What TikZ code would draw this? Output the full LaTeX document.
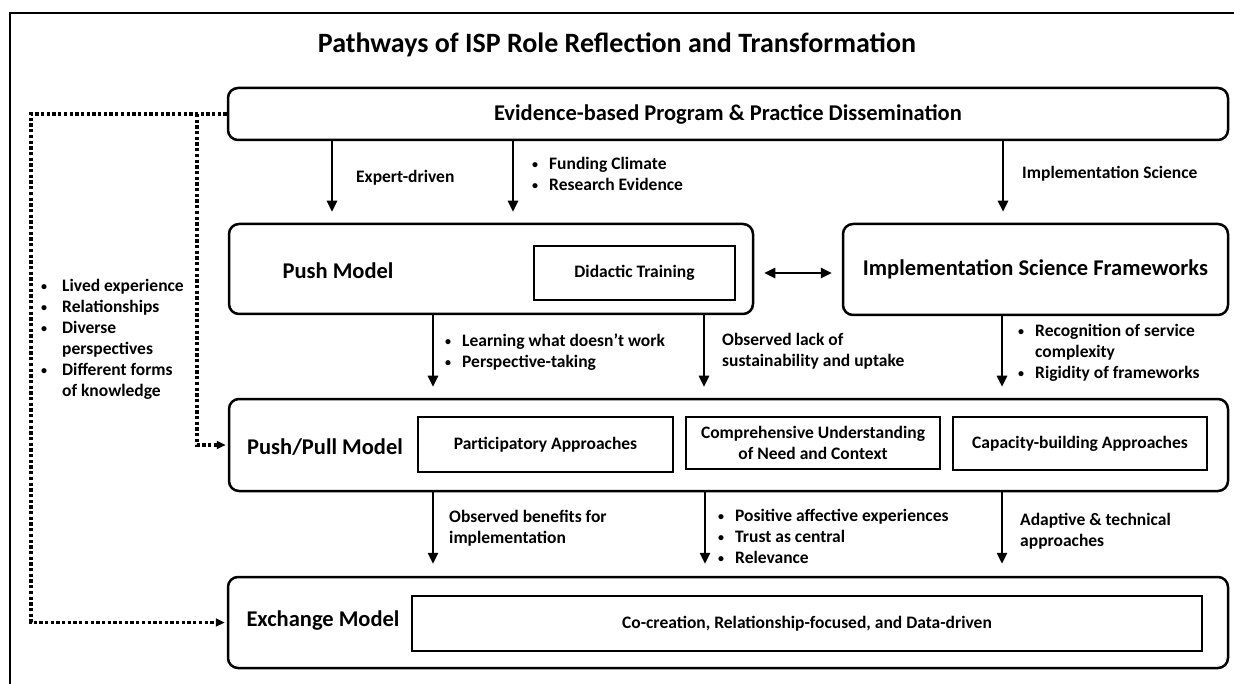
\documentclass[tikz,border=0pt]{standalone}
\usepackage{fontspec}
\setmainfont{Carlito}
\usepackage{tikz}
\usetikzlibrary{arrows.meta}

\newcommand{\bulletlist}[2][11pt]{\begin{tabular}{@{}l@{\hspace{#1}}l@{}}#2\end{tabular}}
\newcommand{\bu}{\raisebox{1pt}{\fontsize{12}{12}\selectfont\textbullet}}

\begin{document}
\begin{tikzpicture}[x=1pt, y=-1pt,
    model/.style={draw, rounded corners=10pt, line width=2.5pt, inner sep=0pt},
    part/.style={draw, line width=1.5pt, inner sep=0pt, align=center, font=\fontsize{17.5}{21}\selectfont\bfseries},
    head/.style={font=\fontsize{22.5}{27}\selectfont\bfseries},
    lbl/.style={anchor=west, inner sep=0pt, align=left, font=\fontsize{17.5}{21}\selectfont\bfseries},
    flow/.style={line width=2.5pt, -{Triangle[width=10pt,length=11pt]}},
    dots/.style={line width=3.3pt, dash pattern=on 3.3pt off 2.4pt}]
    \useasboundingbox (0,0) rectangle (1234,684);
    \draw[line width=2pt] (10,684) -- (10,13) -- (1234,13);

    \node (title) at (617,45) [font=\fontsize{28}{33}\selectfont\bfseries] {Pathways of ISP Role Reflection and Transformation};

    % models
    \node (ebp) at (728,114) [model, head, minimum width=1000pt, minimum height=52pt] {Evidence-based Program \& Practice Dissemination};
    \node (push) at (491,269) [model, minimum width=524pt, minimum height=90pt] {};
    \node (pushname) at (338,271) [head] {Push Model};
    \node (didactic) at (634.5,273) [part, minimum width=201pt, minimum height=54pt] {Didactic Training};
    \node (isf) at (1035.5,269.5) [model, head, minimum width=385pt, minimum height=91pt] {Implementation Science Frameworks};
    \node (pushpull) at (728.5,445) [model, minimum width=999pt, minimum height=92pt] {};
    \node (pushpullname) at (325,447) [head] {Push/Pull Model};
    \node (particip) at (545.5,444.5) [part, minimum width=255pt, minimum height=55pt] {Participatory Approaches};
    \node (compreh) at (813,443) [part, minimum width=254pt, minimum height=52pt] {Comprehensive Understanding\\of Need and Context};
    \node (capacity) at (1080,443.5) [part, minimum width=254pt, minimum height=53pt] {Capacity-building Approaches};
    \node (exchange) at (728,622.5) [model, minimum width=1000pt, minimum height=91pt] {};
    \node (exchangename) at (323,621) [head] {Exchange Model};
    \node (cocreate) at (807,623.5) [part, minimum width=790pt, minimum height=55pt] {Co-creation, Relationship-focused, and Data-driven};

    % arrows
    \draw[flow, shorten >=11pt] (ebp.south -| 332,0) -- (push.north -| 332,0);
    \draw[flow, shorten >=11pt] (ebp.south -| 513,0) -- (push.north -| 513,0);
    \draw[flow, shorten >=11pt] (ebp.south -| 1003,0) -- (isf.north -| 1003,0);
    \draw[flow, {Triangle[width=10pt,length=11pt]}-{Triangle[width=10pt,length=11pt]}, shorten <=10pt, shorten >=10pt] (push.east |- didactic.east) -- (isf.west |- didactic.east);
    \draw[flow, shorten >=11pt] (push.south -| 433,0) -- (pushpull.north -| 433,0);
    \draw[flow, shorten >=11pt] (push.south -| 704,0) -- (pushpull.north -| 704,0);
    \draw[flow, shorten >=11pt] (isf.south -| 1002,0) -- (pushpull.north -| 1002,0);
    \draw[flow, shorten >=12pt] (pushpull.south -| 433,0) -- (exchange.north -| 433,0);
    \draw[flow, shorten >=12pt] (pushpull.south -| 705,0) -- (exchange.north -| 705,0);
    \draw[flow, shorten >=12pt] (pushpull.south -| 1002,0) -- (exchange.north -| 1002,0);

    % dotted feedback
    \coordinate (farleft) at (31,0);
    \coordinate (nearleft) at (197,0);
    \draw[dots, -{Triangle[width=8pt,length=9pt]}, shorten >=2pt] (ebp.west) -| (farleft |- exchange.west) -- (exchange.west);
    \draw[dots, -{Triangle[width=8pt,length=9pt]}, shorten >=2pt] (ebp.west -| nearleft) |- (pushpull.west);

    % labels
    \node (expert) at (356,178) [lbl] {Expert-driven};
    \node (funding) at (532,176) [lbl] {\bulletlist{\bu & Funding Climate\\ \bu & Research Evidence}};
    \node (implsci) at (1022,174) [lbl] {Implementation Science};
    \node (learning) at (445,353) [lbl] {\bulletlist{\bu & Learning what doesn’t work\\ \bu & Perspective-taking}};
    \node (lack) at (722,351) [lbl] {Observed lack of\\sustainability and uptake};
    \node (recog) at (1018,353) [lbl] {\bulletlist{\bu & Recognition of service\\ & complexity\\ \bu & Rigidity of frameworks}};
    \node (benefits) at (449,528) [lbl] {Observed benefits for\\implementation};
    \node (positive) at (718,538) [lbl] {\bulletlist{\bu & Positive affective experiences\\ \bu & Trust as central\\ \bu & Relevance}};
    \node (adaptive) at (1020,531) [lbl] {Adaptive \& technical\\approaches};
    \node (lived) at (41,340) [lbl] {\bulletlist[15pt]{\bu & Lived experience\\ \bu & Relationships\\ \bu & Diverse\\ & perspectives\\ \bu & Different forms\\ & of knowledge}};
\end{tikzpicture}
\end{document}
